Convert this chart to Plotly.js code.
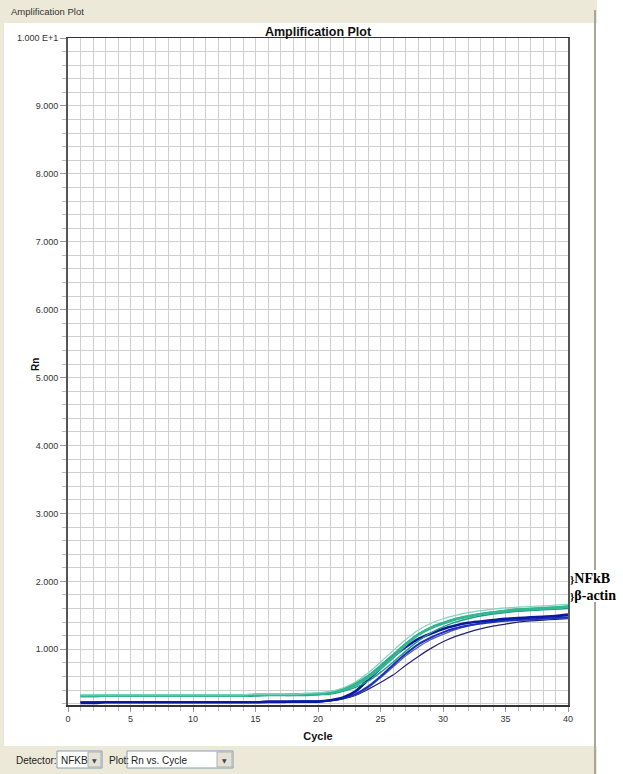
<!DOCTYPE html>
<html>
<head>
<meta charset="utf-8">
<script src="https://cdn.plot.ly/plotly-3.0.1.min.js"></script>
<style>
html,body{margin:0;padding:0;background:#fff;}
#chart{width:623px;height:774px;}
</style>
</head>
<body>
<div id="chart"></div>
<script>
// ---- data ----
const cycles = [1,2,3,4,5,6,7,8,9,10,11,12,13,14,15,16,17,18,19,20,21,22,23,24,25,26,27,28,29,30,31,32,33,34,35,36,37,38,39,40];

const nfkbA = [0.33,0.33,0.33,0.33,0.33,0.33,0.33,0.33,0.33,0.33, 0.33,0.33,0.33,0.33,0.34,0.34,0.34,0.34,0.35,0.36, 0.38,0.43,0.52,0.65,0.81,0.98,1.14,1.28,1.38,1.45, 1.50,1.54,1.57,1.59,1.61,1.62,1.63,1.64,1.65,1.66];
const nfkbB = [0.31,0.31,0.32,0.32,0.32,0.32,0.32,0.32,0.32,0.32, 0.32,0.32,0.32,0.32,0.33,0.33,0.33,0.33,0.34,0.34, 0.36,0.40,0.47,0.58,0.72,0.88,1.06,1.21,1.31,1.38, 1.44,1.48,1.52,1.54,1.56,1.58,1.59,1.60,1.61,1.63];
const nfkbC = [0.31,0.31,0.31,0.31,0.31,0.31,0.31,0.31,0.31,0.31, 0.31,0.31,0.31,0.31,0.31,0.32,0.32,0.32,0.32,0.33, 0.34,0.38,0.44,0.53,0.66,0.81,0.97,1.12,1.24,1.33, 1.40,1.45,1.49,1.52,1.54,1.56,1.57,1.58,1.59,1.60];
const nfkbD = [0.32,0.32,0.32,0.32,0.32,0.32,0.32,0.32,0.32,0.32, 0.32,0.32,0.32,0.32,0.33,0.33,0.33,0.34,0.34,0.35, 0.37,0.42,0.50,0.61,0.76,0.92,1.08,1.22,1.32,1.39, 1.45,1.49,1.52,1.55,1.57,1.59,1.60,1.61,1.62,1.63];

const actinA = [0.21,0.21,0.22,0.22,0.22,0.22,0.22,0.22,0.22,0.22, 0.22,0.22,0.22,0.22,0.22,0.23,0.23,0.23,0.23,0.23, 0.25,0.29,0.38,0.55,0.72,0.89,1.03,1.15,1.23,1.30, 1.35,1.39,1.41,1.43,1.45,1.46,1.47,1.48,1.49,1.51];
const actinB = [0.22,0.22,0.22,0.22,0.22,0.22,0.22,0.22,0.22,0.22, 0.22,0.22,0.22,0.22,0.22,0.22,0.22,0.23,0.23,0.23, 0.25,0.28,0.34,0.45,0.60,0.77,0.93,1.07,1.17,1.25, 1.31,1.35,1.38,1.40,1.42,1.43,1.44,1.45,1.46,1.47];
const actinC = [0.23,0.23,0.23,0.23,0.23,0.23,0.23,0.23,0.23,0.23, 0.23,0.23,0.23,0.23,0.23,0.23,0.23,0.23,0.24,0.24, 0.25,0.28,0.33,0.43,0.58,0.74,0.90,1.03,1.14,1.22, 1.29,1.34,1.38,1.41,1.43,1.45,1.46,1.47,1.48,1.49];
const actinD = [0.22,0.22,0.22,0.22,0.22,0.22,0.22,0.22,0.22,0.22, 0.22,0.22,0.22,0.22,0.22,0.22,0.22,0.22,0.23,0.23, 0.24,0.27,0.32,0.41,0.51,0.62,0.76,0.89,1.01,1.11, 1.19,1.25,1.30,1.34,1.37,1.40,1.42,1.43,1.44,1.45];

const xTickVals = [0,5,10,15,20,25,30,35,40];
const yTickVals = [1,2,3,4,5,6,7,8,9,10];
const yTickText = ["1.000","2.000","3.000","4.000","5.000","6.000","7.000","8.000","9.000","1.000 E+1"];

// ---- page geometry ----
const W = 623, H = 774, L = 68, R = 55, T = 38, B = 69;
const PW = W - L - R, PH = H - T - B;
const px = v => (v - L) / PW;
const py = v => (H - B - v) / PH;

const series = [
  {y: actinD, color: '#23236e', width: 1.2},
  {y: actinC, color: '#5a5aa6', width: 1.2},
  {y: actinB, color: '#1b2fc0', width: 2},
  {y: actinA, color: '#0a1a9e', width: 2.6},
  {y: nfkbC, color: '#1f9c86', width: 1.4},
  {y: nfkbD, color: '#2aae8e', width: 2},
  {y: nfkbB, color: '#33b792', width: 2.6},
  {y: nfkbA, color: '#7fd6bd', width: 1.2}
];

const traces = series.map(s => ({
  x: cycles, y: s.y, type: 'scatter', mode: 'lines',
  line: {color: s.color, width: s.width, shape: 'spline', smoothing: 0.6},
  hoverinfo: 'skip', showlegend: false
}));

const beige = '#ECE9D8';
const shapes = [
  {type:'rect', xref:'paper', yref:'paper', x0:px(0), x1:px(597), y0:py(0), y1:py(23), fillcolor:beige, line:{width:0}, layer:'below'},
  {type:'rect', xref:'paper', yref:'paper', x0:px(0), x1:px(597), y0:py(746), y1:py(774), fillcolor:beige, line:{width:0}, layer:'below'},
  {type:'rect', xref:'paper', yref:'paper', x0:px(0), x1:px(4), y0:py(0), y1:py(774), fillcolor:beige, line:{width:0}, layer:'below'},
  {type:'line', xref:'paper', yref:'paper', x0:px(595), x1:px(595), y0:py(10), y1:py(774), line:{color:'#a8a694', width:2}, layer:'below'},
  // white patch behind the side labels
  {type:'rect', xref:'paper', yref:'paper', x0:px(570), x1:px(623), y0:py(570), y1:py(602), fillcolor:'#ffffff', line:{width:0}},
  // combo boxes
  {type:'rect', xref:'paper', yref:'paper', x0:px(57), x1:px(102), y0:py(751), y1:py(768), fillcolor:'#ffffff', line:{color:'#7f9db9', width:1}},
  {type:'rect', xref:'paper', yref:'paper', x0:px(88), x1:px(101), y0:py(752), y1:py(767), fillcolor:'#e4e2d8', line:{color:'#b0b0a8', width:1}},
  {type:'rect', xref:'paper', yref:'paper', x0:px(127), x1:px(233), y0:py(751), y1:py(768), fillcolor:'#ffffff', line:{color:'#7f9db9', width:1}},
  {type:'rect', xref:'paper', yref:'paper', x0:px(217), x1:px(232), y0:py(752), y1:py(767), fillcolor:'#e4e2d8', line:{color:'#b0b0a8', width:1}}
];

const uiFont = {family:'Liberation Sans, Arial, sans-serif', size:10, color:'#222'};
const labFont = {family:'Liberation Serif, Times New Roman, serif', size:14, color:'#000', weight:'bold'};
const annotations = [
  {xref:'paper', yref:'paper', x:px(9), y:py(12), xanchor:'left', yanchor:'middle', text:'Amplification Plot', showarrow:false, font:{family:'Liberation Sans, Arial, sans-serif', size:9.5, color:'#333'}},
  {xref:'paper', yref:'paper', x:px(35), y:py(365), xanchor:'center', yanchor:'middle', textangle:-90, text:'<b>Rn</b>', showarrow:false, font:{family:'Liberation Sans, Arial, sans-serif', size:10, color:'#111'}},
  {xref:'paper', yref:'paper', x:px(14), y:py(760), xanchor:'left', yanchor:'middle', text:'Detector:', showarrow:false, font:uiFont},
  {xref:'paper', yref:'paper', x:px(59), y:py(760), xanchor:'left', yanchor:'middle', text:'NFKB', showarrow:false, font:uiFont},
  {xref:'paper', yref:'paper', x:px(94.5), y:py(760), xanchor:'center', yanchor:'middle', text:'▼', showarrow:false, font:{family:'DejaVu Sans', size:6, color:'#444'}},
  {xref:'paper', yref:'paper', x:px(107), y:py(760), xanchor:'left', yanchor:'middle', text:'Plot:', showarrow:false, font:uiFont},
  {xref:'paper', yref:'paper', x:px(129), y:py(760), xanchor:'left', yanchor:'middle', text:'Rn vs. Cycle', showarrow:false, font:uiFont},
  {xref:'paper', yref:'paper', x:px(224.5), y:py(760), xanchor:'center', yanchor:'middle', text:'▼', showarrow:false, font:{family:'DejaVu Sans', size:6, color:'#444'}},
  {xref:'paper', yref:'paper', x:px(569), y:py(578), xanchor:'left', yanchor:'middle', text:'<span style="font-size:11px">}</span>NFkB', showarrow:false, borderpad:0, font:labFont},
  {xref:'paper', yref:'paper', x:px(569), y:py(595), xanchor:'left', yanchor:'middle', text:'<span style="font-size:11px">}</span>β-actin', showarrow:false, borderpad:0, font:labFont}
];

const layout = {
  width: W, height: H,
  margin: {l:L, r:R, t:T, b:B, pad:0},
  paper_bgcolor: '#ffffff', plot_bgcolor: '#ffffff',
  showlegend: false,
  title: {text:'<b>Amplification Plot</b>', x:(318)/W, y:(H-32)/H, xref:'container', yref:'container', xanchor:'center', yanchor:'middle', font:{family:'Liberation Sans, Arial, sans-serif', size:12.5, color:'#111'}},
  xaxis: {
    range:[0,40], tickmode:'array', tickvals:xTickVals, ticktext:xTickVals.map(String),
    ticks:'outside', ticklen:5, tickcolor:'#999', tickwidth:1,
    showgrid:true, gridcolor:'#cfcfcf', gridwidth:1,
    minor:{dtick:1, tick0:0, showgrid:true, gridcolor:'#cfcfcf', gridwidth:1, ticks:'outside', ticklen:4, tickcolor:'#bbb'},
    showline:true, linecolor:'#333', linewidth:1.5, mirror:true, zeroline:false,
    tickfont:{family:'Liberation Sans, Arial, sans-serif', size:9, color:'#333'},
    title:{text:'<b>Cycle</b>', standoff:9, font:{family:'Liberation Sans, Arial, sans-serif', size:11, color:'#111'}}
  },
  yaxis: {
    range:[0.18,10], tickmode:'array', tickvals:yTickVals, ticktext:yTickText,
    ticks:'outside', ticklen:6, tickcolor:'#999', tickwidth:1,
    showgrid:true, gridcolor:'#cfcfcf', gridwidth:1,
    minor:{dtick:0.2, tick0:0, showgrid:true, gridcolor:'#cfcfcf', gridwidth:1, ticks:'outside', ticklen:4, tickcolor:'#bbb'},
    showline:true, linecolor:'#555', linewidth:2, mirror:true, zeroline:false,
    tickfont:{family:'Liberation Sans, Arial, sans-serif', size:9, color:'#333'}
  },
  shapes: shapes,
  annotations: annotations
};

Plotly.newPlot('chart', traces, layout, {displayModeBar:false, staticPlot:true});
</script>
</body>
</html>
